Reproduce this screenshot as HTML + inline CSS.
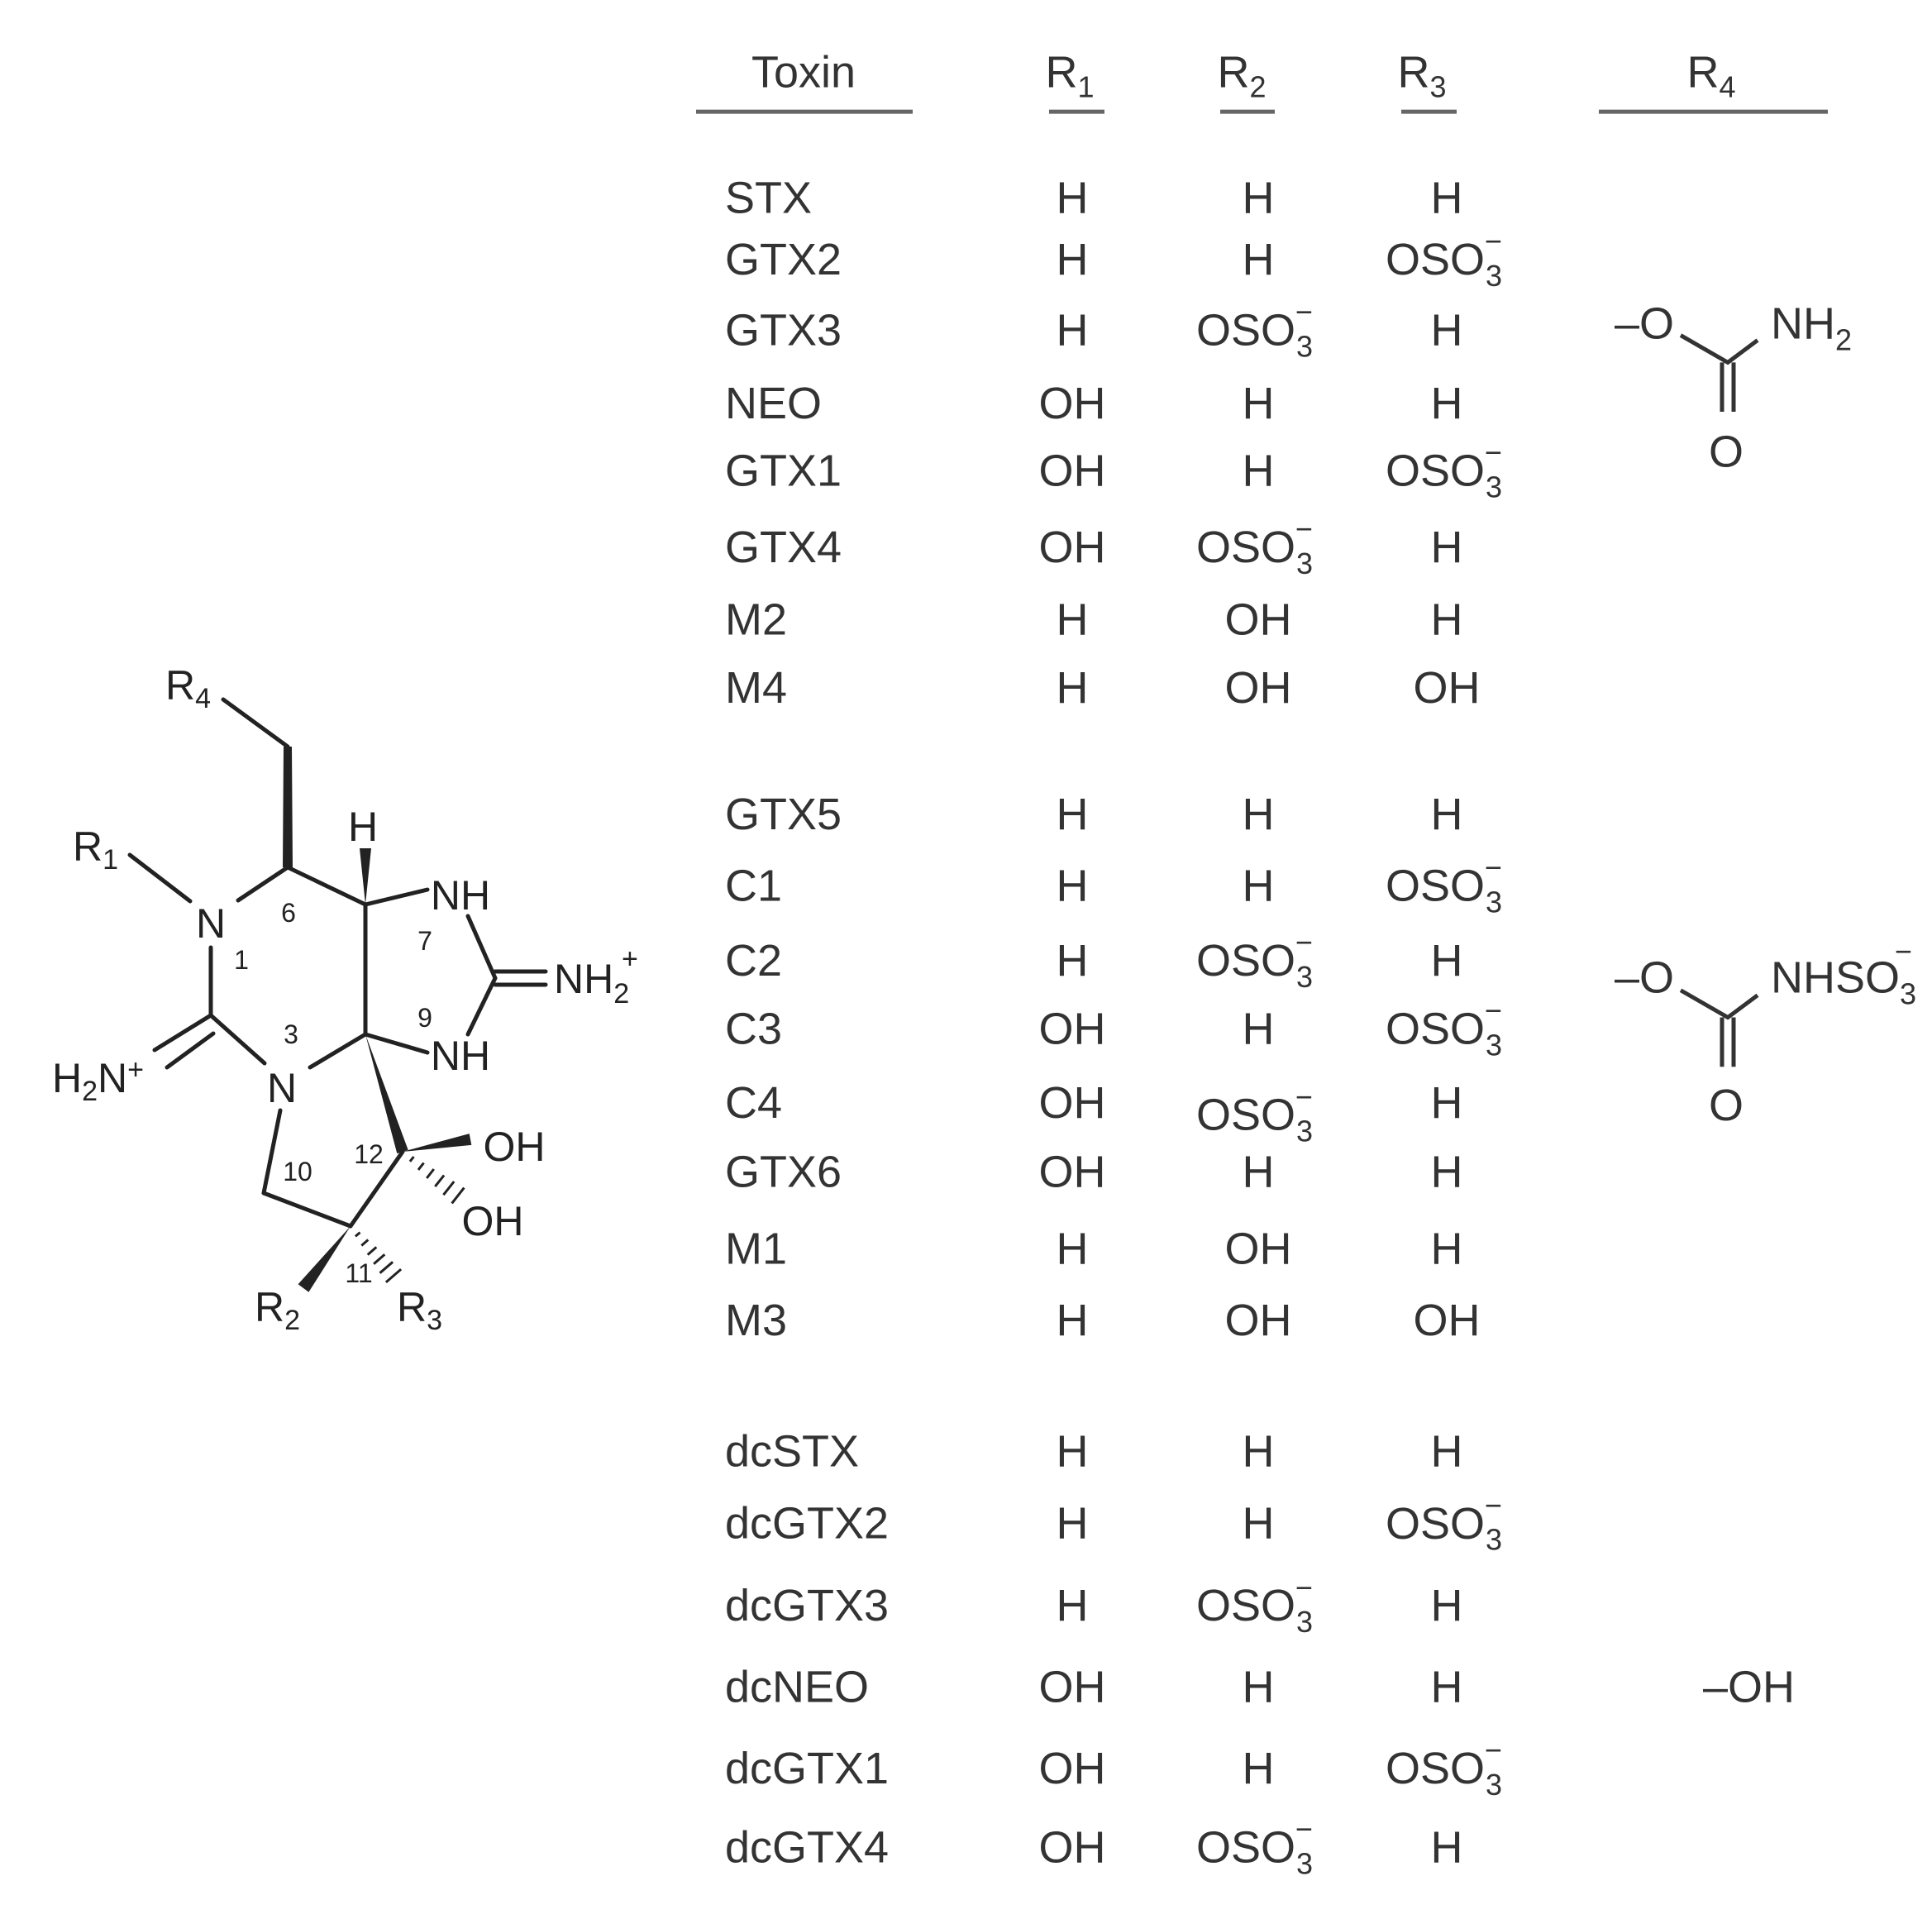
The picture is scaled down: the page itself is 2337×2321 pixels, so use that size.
<!DOCTYPE html>
<html><head><meta charset="utf-8"><style>html,body{margin:0;padding:0;background:#fff}svg{display:block}</style></head>
<body>
<svg width="2337" height="2321" viewBox="0 0 2337 2321" xmlns="http://www.w3.org/2000/svg" font-family="Liberation Sans, sans-serif" fill="#333">
<defs>
<g id="oso"><text x="0" y="0" font-size="54">OSO</text><text x="121" y="14" font-size="36">3</text><text x="120" y="-28" font-size="36">−</text></g>
</defs>
<g transform="translate(0,-2) scale(1,0.994)">
<g font-size="54">
<text x="972" y="108" text-anchor="middle">Toxin</text>
<text x="1294" y="108" text-anchor="middle">R<tspan font-size="36" dy="12">1</tspan></text>
<text x="1502" y="108" text-anchor="middle">R<tspan font-size="36" dy="12">2</tspan></text>
<text x="1720" y="108" text-anchor="middle">R<tspan font-size="36" dy="12">3</tspan></text>
<text x="2070" y="108" text-anchor="middle">R<tspan font-size="36" dy="12">4</tspan></text>
</g>
<g stroke="#666" stroke-width="5">
<line x1="842" y1="138" x2="1104" y2="138"/>
<line x1="1269" y1="138" x2="1336" y2="138"/>
<line x1="1476" y1="138" x2="1542" y2="138"/>
<line x1="1695" y1="138" x2="1762" y2="138"/>
<line x1="1934" y1="138" x2="2211" y2="138"/>
</g>
<g font-size="54">
<text x="877" y="261">STX</text>
<text x="877" y="336">GTX2</text>
<text x="877" y="422">GTX3</text>
<text x="877" y="511">NEO</text>
<text x="877" y="593">GTX1</text>
<text x="877" y="686">GTX4</text>
<text x="877" y="774">M2</text>
<text x="877" y="857">M4</text>
<text x="877" y="1011">GTX5</text>
<text x="877" y="1098">C1</text>
<text x="877" y="1189">C2</text>
<text x="877" y="1272">C3</text>
<text x="877" y="1362">C4</text>
<text x="877" y="1446">GTX6</text>
<text x="877" y="1540">M1</text>
<text x="877" y="1627">M3</text>
<text x="877" y="1786">dcSTX</text>
<text x="877" y="1874">dcGTX2</text>
<text x="877" y="1974">dcGTX3</text>
<text x="877" y="2073">dcNEO</text>
<text x="877" y="2172">dcGTX1</text>
<text x="877" y="2268">dcGTX4</text>
</g>
<g font-size="54" text-anchor="middle">
<text x="1297" y="261">H</text><text x="1297" y="336">H</text><text x="1297" y="422">H</text>
<text x="1297" y="511">OH</text><text x="1297" y="593">OH</text><text x="1297" y="686">OH</text>
<text x="1297" y="774">H</text><text x="1297" y="857">H</text>
<text x="1297" y="1011">H</text><text x="1297" y="1098">H</text><text x="1297" y="1189">H</text>
<text x="1297" y="1272">OH</text><text x="1297" y="1362">OH</text><text x="1297" y="1446">OH</text>
<text x="1297" y="1540">H</text><text x="1297" y="1627">H</text>
<text x="1297" y="1786">H</text><text x="1297" y="1874">H</text><text x="1297" y="1974">H</text>
<text x="1297" y="2073">OH</text><text x="1297" y="2172">OH</text><text x="1297" y="2268">OH</text>
<text x="1522" y="261">H</text><text x="1522" y="336">H</text>
<text x="1522" y="511">H</text><text x="1522" y="593">H</text>
<text x="1522" y="774">OH</text><text x="1522" y="857">OH</text>
<text x="1522" y="1011">H</text><text x="1522" y="1098">H</text>
<text x="1522" y="1272">H</text><text x="1522" y="1446">H</text>
<text x="1522" y="1540">OH</text><text x="1522" y="1627">OH</text>
<text x="1522" y="1786">H</text><text x="1522" y="1874">H</text>
<text x="1522" y="2073">H</text><text x="1522" y="2172">H</text>
<text x="1750" y="261">H</text><text x="1750" y="422">H</text><text x="1750" y="511">H</text>
<text x="1750" y="686">H</text><text x="1750" y="774">H</text><text x="1750" y="857">OH</text>
<text x="1750" y="1011">H</text><text x="1750" y="1189">H</text><text x="1750" y="1362">H</text>
<text x="1750" y="1446">H</text><text x="1750" y="1540">H</text><text x="1750" y="1627">OH</text>
<text x="1750" y="1786">H</text><text x="1750" y="1974">H</text><text x="1750" y="2073">H</text>
<text x="1750" y="2268">H</text>
</g>
<use href="#oso" x="1447" y="422"/>
<use href="#oso" x="1447" y="686"/>
<use href="#oso" x="1447" y="1189"/>
<use href="#oso" x="1447" y="1377"/>
<use href="#oso" x="1447" y="1974"/>
<use href="#oso" x="1447" y="2268"/>
<use href="#oso" x="1676" y="336"/>
<use href="#oso" x="1676" y="593"/>
<use href="#oso" x="1676" y="1098"/>
<use href="#oso" x="1676" y="1272"/>
<use href="#oso" x="1676" y="1874"/>
<use href="#oso" x="1676" y="2172"/>
<g font-size="54">
<text x="1953" y="414">–O</text>
<text x="2142" y="414">NH<tspan font-size="36" dy="14">2</tspan></text>
<text x="2088" y="570" text-anchor="middle">O</text>
<text x="1953" y="1210">–O</text>
<text x="2142" y="1210">NHSO<tspan font-size="36" dy="14">3</tspan></text>
<text x="2292" y="1172" font-size="36">−</text>
<text x="2088" y="1365" text-anchor="middle">O</text>
<text x="2060" y="2073">–OH</text>
</g>
<g stroke="#333" stroke-width="5" fill="none">
<polyline points="2033,410 2090,443 2126,416"/>
<line x1="2083" y1="443" x2="2083" y2="503"/><line x1="2097" y1="443" x2="2097" y2="503"/>
<polyline points="2033,1207 2090,1240 2126,1213"/>
<line x1="2083" y1="1240" x2="2083" y2="1300"/><line x1="2097" y1="1240" x2="2097" y2="1300"/>
</g>
</g>

<g stroke="#222" stroke-width="5" fill="none" stroke-linecap="round">
<line x1="270" y1="846" x2="348" y2="903"/>
<line x1="348" y1="1049" x2="288" y2="1089"/>
<line x1="157" y1="1034" x2="230" y2="1090"/>
<line x1="255" y1="1146" x2="255" y2="1228"/>
<line x1="255" y1="1228" x2="187" y2="1270"/>
<line x1="258" y1="1250" x2="202" y2="1291"/>
<line x1="255" y1="1228" x2="320" y2="1286"/>
<line x1="375" y1="1291" x2="442" y2="1251"/>
<line x1="442" y1="1251" x2="442" y2="1094"/>
<line x1="442" y1="1094" x2="348" y2="1049"/>
<line x1="442" y1="1094" x2="517" y2="1076"/>
<line x1="566" y1="1108" x2="599" y2="1183"/>
<line x1="599" y1="1175" x2="660" y2="1175"/>
<line x1="599" y1="1191" x2="660" y2="1191"/>
<line x1="599" y1="1183" x2="566" y2="1251"/>
<line x1="442" y1="1251" x2="517" y2="1273"/>
<line x1="487" y1="1393" x2="424" y2="1483"/>
<line x1="424" y1="1483" x2="319" y2="1443"/>
<line x1="319" y1="1443" x2="339" y2="1343"/>
</g>
<g fill="#222">
<polygon points="343,903 353,903 354,1049 342,1049"/>
<polygon points="442,1094 435,1026 449,1026"/>
<polygon points="442,1251 480.3,1395.1 493.7,1390.9"/>
<polygon points="487,1393 567.7,1371.1 570.3,1384.9"/>
<polygon points="424,1483 360.6,1553.2 373.4,1562.8"/>
</g>
<g stroke="#222" stroke-width="3">
<line x1="495.9" y1="1404.8" x2="500.5" y2="1399.0"/>
<line x1="506.0" y1="1414.9" x2="512.6" y2="1406.5"/>
<line x1="516.2" y1="1425.0" x2="524.8" y2="1414.0"/>
<line x1="526.3" y1="1435.1" x2="537.1" y2="1421.5"/>
<line x1="536.4" y1="1445.2" x2="549.2" y2="1429.0"/>
<line x1="546.6" y1="1455.4" x2="561.4" y2="1436.6"/>
<line x1="429.9" y1="1495.4" x2="435.5" y2="1490.6"/>
<line x1="437.3" y1="1506.5" x2="445.3" y2="1499.5"/>
<line x1="444.7" y1="1517.6" x2="455.3" y2="1508.4"/>
<line x1="452.1" y1="1528.7" x2="465.3" y2="1517.3"/>
<line x1="459.5" y1="1539.7" x2="475.1" y2="1526.3"/>
<line x1="466.9" y1="1550.9" x2="485.1" y2="1535.1"/>
</g>
<g font-size="50" fill="#222">
<text x="200" y="846">R<tspan font-size="34" dy="10">4</tspan></text>
<text x="88" y="1041">R<tspan font-size="34" dy="10">1</tspan></text>
<text x="255" y="1134" text-anchor="middle">N</text>
<text x="63" y="1321">H<tspan font-size="34" dy="10">2</tspan><tspan dy="-10">N</tspan><tspan font-size="34" dy="-16">+</tspan></text>
<text x="341" y="1333" text-anchor="middle">N</text>
<text x="439" y="1017" text-anchor="middle">H</text>
<text x="557" y="1100" text-anchor="middle">NH</text>
<text x="557" y="1294" text-anchor="middle">NH</text>
<text x="670" y="1201">NH<tspan font-size="34" dy="12">2</tspan></text>
<text x="752" y="1171" font-size="34">+</text>
<text x="622" y="1404" text-anchor="middle">OH</text>
<text x="596" y="1494" text-anchor="middle">OH</text>
<text x="308" y="1598">R<tspan font-size="34" dy="10">2</tspan></text>
<text x="480" y="1598">R<tspan font-size="34" dy="10">3</tspan></text>
</g>
<g font-size="32" fill="#222" text-anchor="middle">
<text x="349" y="1115">6</text>
<text x="292" y="1172">1</text>
<text x="352" y="1262">3</text>
<text x="514" y="1149">7</text>
<text x="514" y="1242">9</text>
<text x="360" y="1428">10</text>
<text x="446" y="1407">12</text>
<text x="434" y="1551">11</text>
</g>
</svg>
</body></html>
